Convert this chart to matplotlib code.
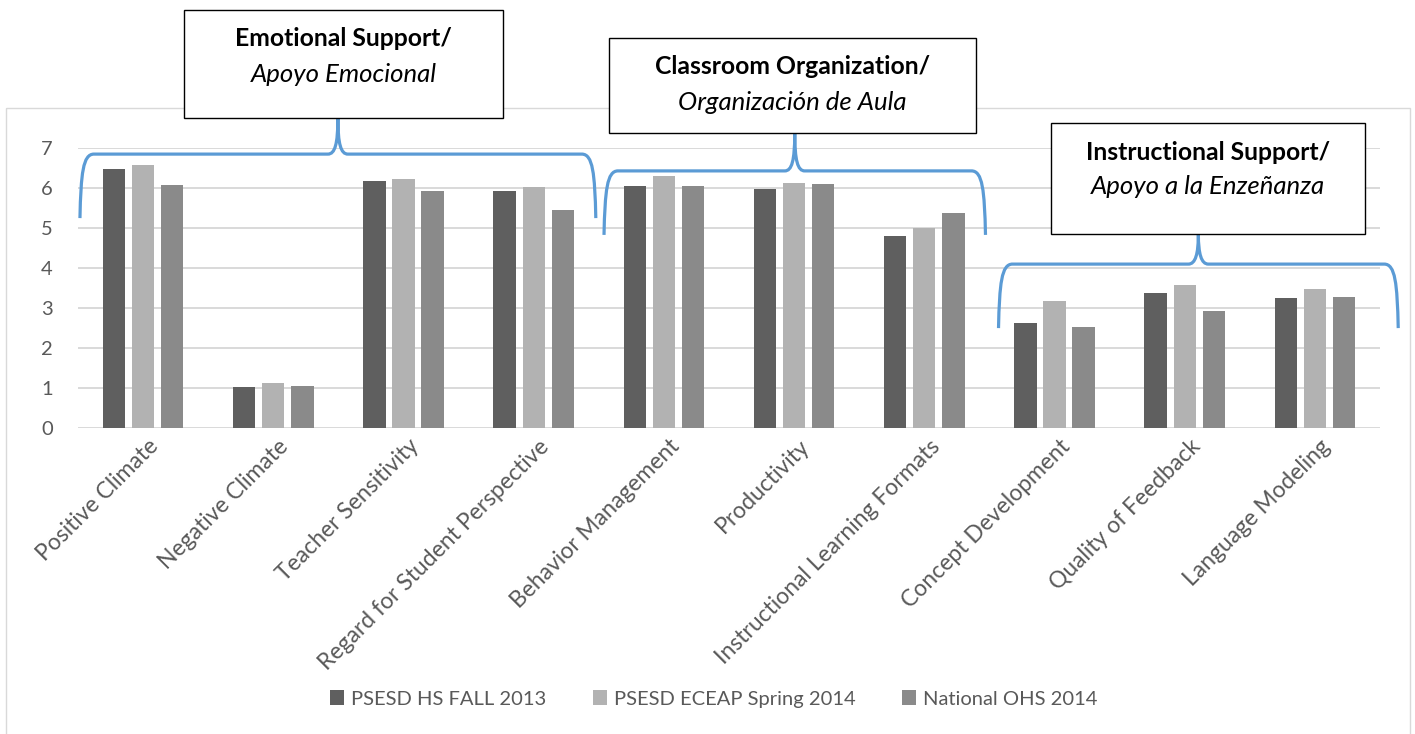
import matplotlib
matplotlib.use("Agg")
import matplotlib.pyplot as plt
import matplotlib.transforms as mtransforms
from matplotlib.patches import Rectangle, Patch, PathPatch
from matplotlib.path import Path
import numpy as np

plt.rcParams['font.family'] = ['Lato', 'DejaVu Sans']

categories = ["Positive Climate", "Negative Climate", "Teacher Sensitivity",
              "Regard for Student Perspective", "Behavior Management", "Productivity",
              "Instructional Learning Formats", "Concept Development",
              "Quality of Feedback", "Language Modeling"]
series_names = ["PSESD HS FALL 2013", "PSESD ECEAP Spring 2014", "National OHS 2014"]
hs_fall_2013 = [6.47, 1.02, 6.18, 5.92, 6.05, 5.98, 4.80, 2.61, 3.38, 3.25]
eceap_spring_2014 = [6.56, 1.13, 6.22, 6.01, 6.30, 6.12, 5.00, 3.18, 3.57, 3.46]
national_ohs_2014 = [6.06, 1.05, 5.91, 5.45, 6.04, 6.09, 5.36, 2.51, 2.91, 3.28]
yticks = [0, 1, 2, 3, 4, 5, 6, 7]

# domain groups: (bold title, italic subtitle)
groups = [("Emotional Support/", "Apoyo Emocional"),
          ("Classroom Organization/", "Organización de Aula"),
          ("Instructional Support/", "Apoyo a la Enzeñanza")]

colors = ["#5f5f5f", "#b2b2b2", "#8a8a8a"]
text_grey = "#595959"
grid_grey = "#d9d9d9"
blue = "#5b9bd5"

W, H = 1415, 734
fig = plt.figure(figsize=(W / 100, H / 100), dpi=100)
px = mtransforms.Affine2D().scale(1 / W, -1 / H).translate(0, 1) + fig.transFigure

ax = fig.add_axes([78 / W, (H - 427.7) / H, (1380 - 78) / W, 280 / H])
x = np.arange(len(categories))
bw = 0.172
step = 0.223
for i, vals in enumerate([hs_fall_2013, eceap_spring_2014, national_ohs_2014]):
    ax.bar(x + (i - 1) * step, vals, width=bw, color=colors[i], label=series_names[i], zorder=2)

ax.set_xlim(-0.5, len(categories) - 0.5)
ax.set_ylim(0, 7)
ax.set_yticks(yticks)
ax.yaxis.grid(True, color=grid_grey, lw=1.4)
ax.set_axisbelow(True)
for s in ax.spines.values():
    s.set_visible(False)
ax.tick_params(axis='y', length=0, labelsize=14.5, labelcolor=text_grey, pad=18)
ax.tick_params(axis='x', length=0, labelsize=16.5, labelcolor=text_grey, pad=6)
ax.set_xticks(x)
ax.set_xticklabels(categories, rotation=45, ha='right', va='center', rotation_mode='anchor')
for lab in ax.get_xticklabels():
    lab.set_transform(lab.get_transform() + mtransforms.ScaledTranslation(0.12, -0.07, fig.dpi_scale_trans))

# outer chart frame
fig.patches.append(Rectangle((6, 108), 1404, 640, transform=px, fill=False,
                             edgecolor=grid_grey, lw=1.0, zorder=0))

# legend
handles = [Patch(facecolor=c, edgecolor='none') for c in colors]
fig.legend(handles, series_names, loc='center', bbox_to_anchor=(714 / W, 1 - 699 / H),
           ncol=3, frameon=False, fontsize=14.5, labelcolor=text_grey,
           handlelength=0.7, handleheight=0.7, handletextpad=0.35, columnspacing=2.3)

# braces, in data units, with px-sized corners
sx = (len(categories)) / 1302.0
sy = 7 / 280.0
brace_ends = [(-0.485, 3.477, 5.24, 6.84, 7.74),
              (3.54, 6.47, 4.82, 6.42, 7.37),
              (6.57, 9.64, 2.49, 4.09, 4.84)]
for x0, x1, yb, yh, ypk in brace_ends:
    xm = (x0 + x1) / 2
    verts = [(x0, yb), (x0 + 1 * sx, yb + 0.7 * (yh - yb)), (x0 + 3 * sx, yh), (x0 + 14 * sx, yh),
             (xm - 10 * sx, yh),
             (xm - 3 * sx, yh), (xm, yh + 10 * sy), (xm, ypk),
             (xm, yh + 10 * sy), (xm + 3 * sx, yh), (xm + 10 * sx, yh),
             (x1 - 14 * sx, yh),
             (x1 - 3 * sx, yh), (x1 - 1 * sx, yb + 0.7 * (yh - yb)), (x1, yb)]
    codes = [Path.MOVETO, Path.CURVE4, Path.CURVE4, Path.CURVE4, Path.LINETO,
             Path.CURVE4, Path.CURVE4, Path.CURVE4, Path.CURVE4, Path.CURVE4, Path.CURVE4,
             Path.LINETO, Path.CURVE4, Path.CURVE4, Path.CURVE4]
    ax.add_patch(PathPatch(Path(verts, codes), fill=False, edgecolor=blue, lw=2.3,
                           clip_on=False, zorder=4, capstyle='butt'))

# label boxes (pixel layout: left, top, right, bottom)
boxes = [(184, 10, 503, 118), (609, 38, 976, 133), (1051, 123, 1365, 234)]
for (title, sub), (l, t, r, btm) in zip(groups, boxes):
    fig.patches.append(Rectangle((l, t), r - l, btm - t, transform=px, facecolor='white',
                                 edgecolor='black', lw=1.0, zorder=5))
    cx = (l + r) / 2
    fig.text(cx, t + 29, title, transform=px, ha='center', va='center', fontsize=17.8,
             fontweight='bold', color='black', zorder=6)
    fig.text(cx, t + 64, sub, transform=px, ha='center', va='center', fontsize=18.5,
             style='italic', color='black', zorder=6)

fig.savefig("out.png", dpi=100)
